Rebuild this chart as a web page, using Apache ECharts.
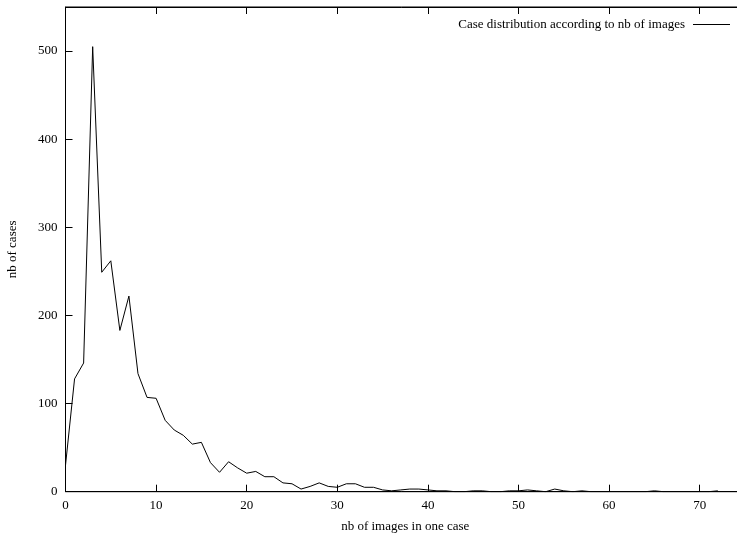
<!DOCTYPE html>
<html>
<head>
<meta charset="utf-8">
<script src="https://cdn.jsdelivr.net/npm/echarts@6/dist/echarts.min.js"></script>
<style>
html,body{margin:0;padding:0;background:#fff;}
#chart{width:737px;height:534px;}
</style>
</head>
<body>
<div id="chart"></div>
<script>
var imagesPerCase = [0,1,2,3,4,5,6,7,8,9,10,11,12,13,14,15,16,17,18,19,20,21,22,23,24,25,26,27,28,29,30,31,32,33,34,35,36,37,38,39,40,41,42,43,44,45,46,47,48,49,50,51,52,53,54,55,56,57,58,59,60,61,62,63,64,65,66,67,68,69,70,71,72];
var nbCases = [30,128,146,505,249,262,183,222,134,107,106,81,70,64,54,56,33,22,34,27,21,23,17,17,10,9,3,6,10,6,5,9,9,5,5,2,1,2,3,3,2,1,1,0,0,1,1,0,0,1,1,2,1,0,3,1,0,1,0,0,0,0,0,0,0,1,0,0,0,0,0,0,1];
var seriesName = 'Case distribution according to nb of images';
var xTitle = 'nb of images in one case';
var yTitle = 'nb of cases';

var pairs = imagesPerCase.map(function (x, i) { return [x, nbCases[i]]; });
var font = 'Liberation Serif';
var chart = echarts.init(document.getElementById('chart'), null, {renderer: 'canvas'});
chart.setOption({
  animation: false,
  backgroundColor: '#fff',
  grid: {left: 65.5, top: 7, height: 484.7, width: 679.5, show: true, borderColor: '#000', borderWidth: 1, backgroundColor: 'transparent', containLabel: false, outerBoundsMode: 'none'},
  legend: {
    show: true,
    top: 13,
    right: 2,
    align: 'right',
    itemWidth: 37,
    itemHeight: 1,
    icon: 'rect',
    data: [{name: seriesName, icon: 'rect', itemStyle: {color: '#000'}}],
    textStyle: {fontFamily: font, fontSize: 13, color: '#000', padding: [0, 3, 0, 0]}
  },
  xAxis: [{
    type: 'value', min: 0, max: 75, interval: 10,
    name: xTitle, nameLocation: 'middle', nameGap: 28,
    nameTextStyle: {fontFamily: font, fontSize: 13, color: '#000'},
    axisLine: {show: true, lineStyle: {color: '#000', width: 1}},
    axisTick: {show: true, inside: true, length: 7, lineStyle: {color: '#000'}},
    axisLabel: {fontFamily: font, fontSize: 13, color: '#000', margin: 7, showMaxLabel: false},
    splitLine: {show: false}
  }, {
    type: 'value', min: 0, max: 75, interval: 10, position: 'top',
    axisLine: {show: true, lineStyle: {color: '#000', width: 1}},
    axisTick: {show: true, inside: true, length: 7, lineStyle: {color: '#000'}},
    axisLabel: {show: false},
    splitLine: {show: false}
  }],
  yAxis: [{
    type: 'value', min: 0, max: 550, interval: 100,
    name: yTitle, nameLocation: 'middle', nameGap: 46, nameRotate: 90,
    nameTextStyle: {fontFamily: font, fontSize: 13, color: '#000'},
    axisLine: {show: true, lineStyle: {color: '#000', width: 1}},
    axisTick: {show: true, inside: true, length: 7, lineStyle: {color: '#000'}},
    axisLabel: {fontFamily: font, fontSize: 13, color: '#000', margin: 8, showMaxLabel: false},
    splitLine: {show: false}
  }],
  series: [{
    type: 'line', name: seriesName, data: pairs,
    showSymbol: false, symbol: 'none',
    lineStyle: {color: '#000', width: 1},
    itemStyle: {color: '#000'}
  }]
});
</script>
</body>
</html>
